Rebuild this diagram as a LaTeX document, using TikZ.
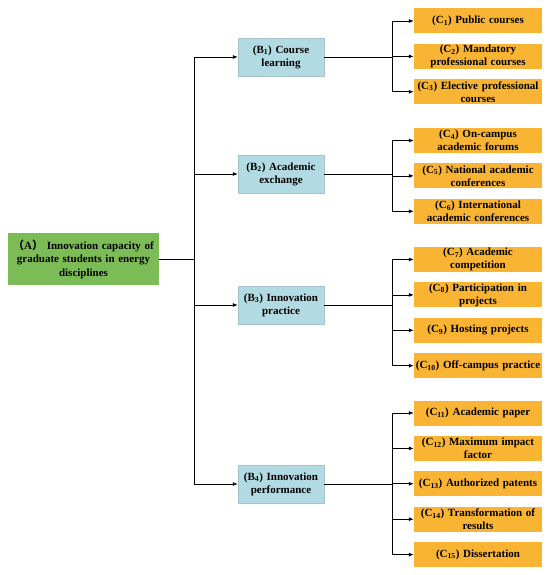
\documentclass[tikz,border=0pt]{standalone}
\usepackage{fontspec}
\setmainfont{Liberation Serif}
\newfontfamily\cjk{Noto Sans CJK SC}
\usepackage{xcolor}
\definecolor{greenfill}{RGB}{124,188,86}
\definecolor{bluefill}{RGB}{178,218,226}
\definecolor{bluedraw}{RGB}{165,195,205}
\definecolor{goldfill}{RGB}{249,180,52}
\usetikzlibrary{arrows.meta,positioning,calc}
\tikzset{
  fc_root/.style={rectangle,fill=greenfill,
    text width=147pt,align=center,
    font=\fontsize{11}{13.5}\selectfont\bfseries,
    inner sep=2pt,minimum width=151pt,minimum height=52pt},
  fc_crit/.style={rectangle,draw=bluedraw,fill=bluefill,
    text width=82pt,align=center,
    font=\fontsize{11}{13}\selectfont\bfseries,
    inner sep=2pt,minimum width=86pt,minimum height=38pt},
  fc_ind/.style={rectangle,fill=goldfill,
    text width=126pt,align=center,
    font=\fontsize{11}{13}\selectfont\bfseries,
    inner sep=1pt,minimum width=128pt,minimum height=25pt},
  arr/.style={-{Latex[length=5pt,width=4pt]},line width=0.8pt,draw=black},
  link/.style={line width=0.8pt,draw=black},
}
\newcommand{\cs}[1]{(C\textsubscript{#1})}
\newcommand{\bs}[1]{(B\textsubscript{#1})}

\begin{document}
\begin{tikzpicture}[x=1pt,y=1pt,node distance=10pt]
  \useasboundingbox (0,0) rectangle (550,-575);
  % root
  \node (A) [fc_root] at (83.5,-259) {{\cjk （}A{\cjk ）} Innovation capacity of\\
    graduate students in energy\\ disciplines};
  % criteria
  \node (B1) [fc_crit] at (281,-57) {\bs{1} Course\\ learning};
  \node (B2) [fc_crit] at (281,-174) {\bs{2} Academic\\ exchange};
  \node (B3) [fc_crit] at (281,-305) {\bs{3} Innovation\\ practice};
  \node (B4) [fc_crit] at (281,-484) {\bs{4} Innovation\\ performance};
  % indicators
  \node (C1) [fc_ind] at (478,-21) {\cs{1} Public courses};
  \node (C2) [fc_ind,below=of C1] {\cs{2} Mandatory\\ professional courses};
  \node (C3) [fc_ind,below=of C2] {\cs{3} Elective professional\\ courses};
  \node (C4) [fc_ind] at (478,-140.5) {\cs{4} On-campus\\ academic forums};
  \node (C5) [fc_ind,below=of C4] {\cs{5} National academic\\ conferences};
  \node (C6) [fc_ind,below=of C5] {\cs{6} International\\ academic conferences};
  \node (C7) [fc_ind] at (478,-259.5) {\cs{7} Academic\\ competition};
  \node (C8) [fc_ind,below=of C7] {\cs{8} Participation in\\ projects};
  \node (C9) [fc_ind,below=of C8] {\cs{9} Hosting projects};
  \node (C10) [fc_ind,below=of C9] {\cs{10} Off-campus practice};
  \node (C11) [fc_ind] at (478,-413) {\cs{11} Academic paper};
  \node (C12) [fc_ind,below=of C11] {\cs{12} Maximum impact\\ factor};
  \node (C13) [fc_ind,below=of C12] {\cs{13} Authorized patents};
  \node (C14) [fc_ind,below=of C13] {\cs{14} Transformation of\\ results};
  \node (C15) [fc_ind,below=of C14] {\cs{15} Dissertation};
  % A -> B
  \coordinate (ja) at (194,0);
  \draw[link] (A.east) -- (ja |- A.east);
  \draw[link] (ja |- B1.west) -- (ja |- B4.west);
  \foreach \b in {B1,B2,B3,B4}
    \draw[arr] (ja |- \b.west) -- (\b.west);
  % B -> C
  \coordinate (jc) at (392,0);
  \foreach \b/\first/\last/\all in {B1/C1/C3/{C1,C2,C3},B2/C4/C6/{C4,C5,C6},
      B3/C7/C10/{C7,C8,C9,C10},B4/C11/C15/{C11,C12,C13,C14,C15}} {
    \draw[link] (\b.east) -- (jc |- \b.east);
    \draw[link] (jc |- \first.west) -- (jc |- \last.west);
    \foreach \c in \all
      \draw[arr] (jc |- \c.west) -- (\c.west);
  }
\end{tikzpicture}
\end{document}
